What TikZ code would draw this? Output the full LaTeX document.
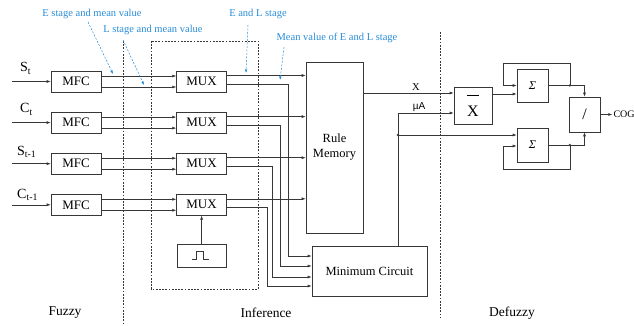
\documentclass[tikz,border=0pt]{standalone}
\usepackage{fontspec}
\setmainfont{Liberation Serif}
\newfontfamily\arialfont{Liberation Sans}
\usetikzlibrary{arrows.meta,positioning,calc}
\definecolor{annblue}{RGB}{40,140,215}
\definecolor{wirecol}{RGB}{55,55,55}

\begin{document}
\begin{tikzpicture}[
            x=1pt, y=-1pt,
            box/.style={draw=wirecol, rectangle, line width=0.6pt, minimum width=50pt, minimum height=21pt, inner sep=0pt, align=center, font=\fontsize{13}{15}\selectfont},
            conn/.style={draw=wirecol, line width=0.6pt},
            arr/.style={conn, -{Latex[length=4pt,width=3pt]}},
            sep/.style={draw=wirecol, line width=0.6pt, dash pattern=on 1.8pt off 1.4pt},
            ann/.style={text=annblue, inner sep=0pt, font=\fontsize{10.5}{12}\selectfont},
            annarr/.style={draw=annblue, line width=0.5pt, dash pattern=on 2pt off 1.5pt, -{Latex[length=3.5pt,width=2.6pt]}},
            inlbl/.style={anchor=base west, inner sep=0pt, font=\fontsize{14}{16}\selectfont},
            stage/.style={inner sep=0pt, font=\fontsize{13.5}{16}\selectfont},
            node distance=19.5pt
        ]
            \useasboundingbox (0,0) rectangle (634,326);

            % fuzzification
            \node[box] (mfc1) at (76,81.5) {MFC};
            \node[box, below=of mfc1] (mfc2) {MFC};
            \node[box, below=of mfc2] (mfc3) {MFC};
            \node[box, below=of mfc3] (mfc4) {MFC};

            \node[inlbl] (lblS) at (20,72) {S\textsubscript{t}};
            \node[inlbl] (lblC) at (20,113) {C\textsubscript{t}};
            \node[inlbl] (lblSp) at (17,155) {S\textsubscript{t-1}};
            \node[inlbl] (lblCp) at (17,198) {C\textsubscript{t-1}};

            % inference
            \node[box, right=75pt of mfc1] (mux1) {MUX};
            \node[box, right=75pt of mfc2] (mux2) {MUX};
            \node[box, right=75pt of mfc3] (mux3) {MUX};
            \node[box, right=75pt of mfc4] (mux4) {MUX};
            \node[box, minimum width=49pt, minimum height=23pt, below=28pt of mux4] (pulse) {};

            \node[box, minimum width=57pt, minimum height=171pt, font=\fontsize{12.5}{15}\selectfont] (rm) at (334.5,147.5) {Rule\\Memory};
            \node[box, minimum width=115pt, minimum height=50pt, font=\fontsize{12.5}{15}\selectfont] (mc) at (369.5,271) {Minimum Circuit};

            % defuzzification
            \node[box, minimum width=38pt, minimum height=37pt, font=\fontsize{16}{21}\selectfont] (xbar) at (473,105.5) {\rule{12pt}{0.8pt}\\X};
            \node[box, minimum width=31pt, minimum height=33pt, font=\fontsize{12}{14}\selectfont] (sum1) at (532.5,85.5) {\textit{Σ}};
            \node[box, minimum width=31pt, minimum height=34pt, font=\fontsize{12}{14}\selectfont] (sum2) at (532.5,145) {\textit{Σ}};
            \node[box, minimum width=31pt, minimum height=35pt, font=\fontsize{16}{18}\selectfont] (div) at (584.5,114.5) {/};
            \node[right=12pt of div, inner sep=1pt, font=\fontsize{10}{12}\selectfont] (cog) {COG};

            \node[inner sep=0pt, font=\fontsize{10.5}{12}\selectfont] (lblX) at (416,87) {X};
            \node[inner sep=0pt, font=\arialfont\fontsize{10}{12}\selectfont] (lblMu) at (419,107) {µA};

            % section labels
            \node[stage] (fuzzy) at (65,313) {Fuzzy};
            \node[stage] (infer) at (266,313) {Inference};
            \node[stage] (defuzzy) at (512,313) {Defuzzy};

            \draw[sep] (123,41) -- (123,326);
            \draw[sep] (440,32) -- (440,317);
            \draw[sep] (151,41) rectangle (258,289);

            % inputs and fuzzifier outputs
            \foreach \i in {1,...,4}{
                \coordinate (in\i) at ([xshift=-39pt]mfc\i.west);
                \draw[arr] (in\i) -- (mfc\i.west);
                \draw[arr] ([yshift=5.5pt]mfc\i.east) -- ([yshift=5.5pt]mux\i.west);
                \draw[arr] ([yshift=-5.5pt]mfc\i.east) -- ([yshift=-5.5pt]mux\i.west);
            }

            % MUX outputs to rule memory and minimum circuit
            \foreach \i/\dx/\dy in {1/61/15, 2/53/5, 3/45/-6, 4/40/-15}{
                \coordinate (mo\i) at ([yshift=6pt]mux\i.east);
                \coordinate (ml\i) at ([yshift=-2.5pt]mux\i.east);
                \coordinate (mi\i) at ([yshift=\dy pt]mc.west);
                \draw[arr] (mo\i) -- (mo\i -| rm.west);
                \draw[arr] (ml\i) -- ++(\dx,0) |- (mi\i);
            }

            \draw[arr] (pulse.north) -- (pulse.north |- mux4.south);
            \draw[conn] ([xshift=-10pt,yshift=-4pt]pulse.center) -- ++(5,0) -- ++(0,-8) -- ++(7,0) -- ++(0,8) -- ++(5,0);

            % X and muA
            \coordinate (xin) at ([yshift=12.5pt]xbar.west);
            \coordinate (muin) at ([yshift=-7.5pt]xbar.west);
            \draw[arr] (xin -| rm.east) -- (xin);
            \coordinate (mutap) at ([xshift=28.5pt]mc.north);
            \draw[arr] (mutap) |- (muin);
            \coordinate (s2a) at ([yshift=10pt]sum2.west);
            \coordinate (j0) at (mutap |- s2a);
            \draw[arr] (j0) -- (s2a);
            \fill[wirecol] (j0) circle (1.3pt);

            % accumulators and division
            \coordinate (s1b) at ([yshift=-8.5pt]sum1.west);
            \draw[arr] (s1b -| xbar.east) -- (s1b);
            \coordinate (j1) at ([xshift=21.5pt]sum1.east);
            \coordinate (j2) at ([xshift=21.5pt]sum2.east);
            \coordinate (s2b) at ([yshift=-1pt]sum2.west);
            \draw[arr] (sum1.east) -| (div.north);
            \draw[arr] (sum2.east) -| (div.south);
            \draw[arr] (j1) -- ++(0,-22.5) -| ([xshift=-13pt]sum1.west) -- (sum1.west);
            \draw[arr] (j2) -- ++(0,24) -| ([xshift=-13pt]s2b) -- (s2b);
            \fill[wirecol] (j1) circle (1.3pt);
            \fill[wirecol] (j2) circle (1.3pt);
            \draw[arr] (div) -- (cog);

            % annotations
            \node[ann] (annE) at (92,14) {E stage and mean value};
            \node[ann] (annL) at (153,30) {L stage and mean value};
            \node[ann] (annEL) at (258,14) {E and L stage};
            \node[ann] (annM) at (337,38) {Mean value of E and L stage};
            \coordinate (tipE) at (113,74);
            \coordinate (tipL) at (144,85);
            \coordinate (tipEL) at (246,73);
            \coordinate (tipM) at (280,80);
            \draw[annarr] ([xshift=-4pt,yshift=-3pt]annE.south) -- (tipE);
            \draw[annarr] ([xshift=-30pt,yshift=-5pt]annL.south) -- (tipL);
            \draw[annarr] ([xshift=-10pt,yshift=-6pt]annEL.south) -- (tipEL);
            \draw[annarr] ([xshift=-53pt,yshift=-4pt]annM.south) -- (tipM);
        \end{tikzpicture}
\end{document}
